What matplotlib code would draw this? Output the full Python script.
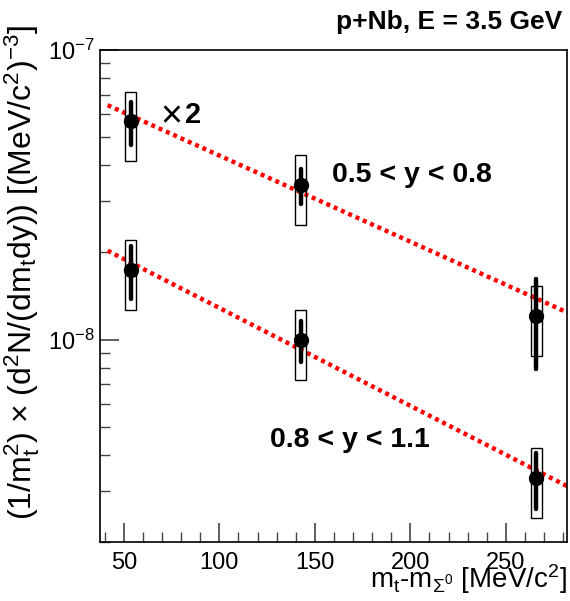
import numpy as np
import matplotlib
matplotlib.use("Agg")
from matplotlib import pyplot as plt
from matplotlib.patches import Rectangle
from matplotlib.ticker import LogLocator, NullFormatter, MultipleLocator

plt.rcParams["font.family"] = ["Liberation Sans", "DejaVu Sans"]
plt.rcParams["mathtext.fontset"] = "custom"
plt.rcParams["mathtext.rm"] = "Liberation Sans"
plt.rcParams["mathtext.it"] = "Liberation Sans:italic"
plt.rcParams["mathtext.bf"] = "Liberation Sans:bold"

#########################################
### Data
#########################################
x_mt = [53.5, 142.5, 266.0]

# 0.5 < y < 0.8 (scaled x2)
y_up = [5.7e-8, 3.42e-8, 1.21e-8]
stat_up_lo = [4.7e-8, 2.94e-8, 7.9e-9]
stat_up_hi = [6.63e-8, 3.88e-8, 1.62e-8]
sys_up_lo = [4.14e-8, 2.48e-8, 8.8e-9]
sys_up_hi = [7.18e-8, 4.33e-8, 1.535e-8]

# 0.8 < y < 1.1
y_lo = [1.74e-8, 1.0e-8, 3.32e-9]
stat_lo_lo = [1.38e-8, 8.37e-9, 2.61e-9]
stat_lo_hi = [2.10e-8, 1.156e-8, 4.06e-9]
sys_lo_lo = [1.27e-8, 7.26e-9, 2.42e-9]
sys_lo_hi = [2.21e-8, 1.27e-8, 4.22e-9]

# Boltzmann-like exponential fits: A * exp(-x / T)
fit_up_A, fit_up_T = 8.57e-8, 146.0
fit_lo_A, fit_lo_T = 2.80e-8, 128.5
fit_range = [41.5, 282.0]

#########################################
### Plot
#########################################
fig = plt.figure(figsize=(5.70, 6.01), dpi=100)
ax = fig.add_axes([0.1754, 0.0982, 0.8193, 0.8186])

xf = np.array(fit_range)
ax.plot(xf, fit_up_A * np.exp(-xf / fit_up_T), color="red", lw=3.2,
        ls=(0, (0.9, 0.9)), zorder=2)
ax.plot(xf, fit_lo_A * np.exp(-xf / fit_lo_T), color="red", lw=3.2,
        ls=(0, (0.9, 0.9)), zorder=2)

box_hw = 3.0
for yv, slo, shi, blo, bhi in [(y_up, stat_up_lo, stat_up_hi, sys_up_lo, sys_up_hi),
                               (y_lo, stat_lo_lo, stat_lo_hi, sys_lo_lo, sys_lo_hi)]:
    for i in range(len(x_mt)):
        ax.add_patch(Rectangle((x_mt[i] - box_hw, blo[i]), 2 * box_hw, bhi[i] - blo[i],
                               fill=False, ec="black", lw=1.0, zorder=3))
        ax.plot([x_mt[i], x_mt[i]], [slo[i], shi[i]], color="black", lw=3.2,
                solid_capstyle="round", zorder=4)
    ax.plot(x_mt, yv, "o", color="black", ms=10, zorder=5)

ax.set_yscale("log")
ax.set_xlim(37.5, 282)
ax.set_ylim(2.0e-9, 1.0e-7)

ax.xaxis.set_major_locator(MultipleLocator(50))
ax.xaxis.set_minor_locator(MultipleLocator(10))
ax.yaxis.set_major_locator(LogLocator(base=10))
ax.yaxis.set_minor_locator(LogLocator(base=10, subs=np.arange(2, 10)))
ax.yaxis.set_minor_formatter(NullFormatter())
ax.tick_params(which="both", direction="in", top=False, right=False,
               labelsize=17, color="#444444")
ax.tick_params(which="major", length=14, width=1.2)
ax.tick_params(which="minor", length=7, width=1.0)
ax.tick_params(axis="x", pad=7)
ax.tick_params(axis="y", pad=4)
for s in ax.spines.values():
    s.set_linewidth(1.2)

ax.text(0.128, 0.868, r"$\times$", transform=ax.transAxes,
        fontsize=27, va="center")
ax.text(0.183, 0.868, "2", transform=ax.transAxes, fontsize=21,
        fontweight="bold", va="center")
ax.text(0.497, 0.746, "0.5 < y < 0.8", transform=ax.transAxes, fontsize=20.5,
        fontweight="bold", va="center")
ax.text(0.364, 0.207, "0.8 < y < 1.1", transform=ax.transAxes, fontsize=20.5,
        fontweight="bold", va="center")

fig.text(0.987, 0.963, "p+Nb, E = 3.5 GeV", fontsize=19, fontweight="bold",
         ha="right", va="center")
fig.text(0.995, 0.036, r"m$_\mathregular{t}$-m$_{\Sigma^0}$ [MeV/c$^\mathregular{2}$]",
         fontsize=20, ha="right", va="center")
fig.text(0.038, 0.547,
         r"(1/m$_\mathregular{t}^\mathregular{2}$) $\times$ (d$^\mathregular{2}$N/(dm$_\mathregular{t}$dy)) [(MeV/c$^\mathregular{2}$)$^\mathregular{-3}$]",
         fontsize=23, rotation=90, ha="center", va="center")

fig.savefig("out.png", dpi=100)
